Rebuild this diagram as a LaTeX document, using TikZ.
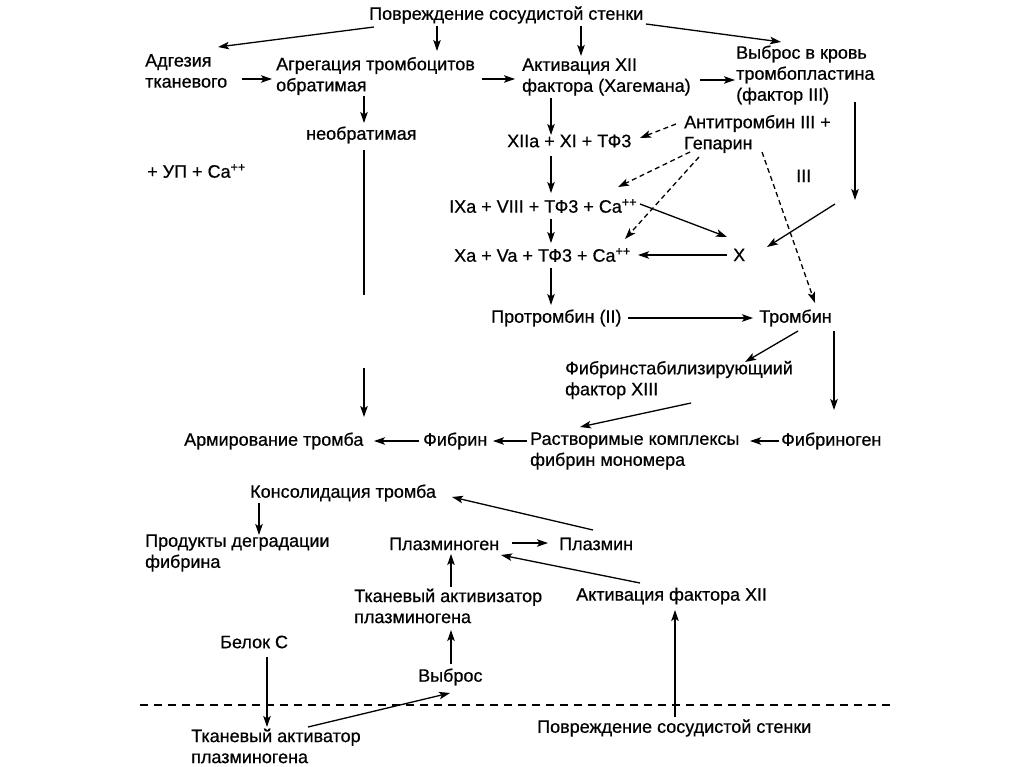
\documentclass[tikz,border=0pt]{standalone}
\usepackage{fontspec}
\setmainfont{Liberation Sans}[FakeBold=0.6]
\usetikzlibrary{arrows.meta}
\tikzset{
  lbl/.style={anchor=west, inner sep=0pt, align=left, font=\fontsize{18}{21}\selectfont},
  arr/.style={-{Stealth[length=11pt,width=7.5pt,inset=2.5pt]}, line width=1.3pt},
  plain/.style={line width=1.3pt},
  dsh/.style={arr, dash pattern=on 5pt off 3.5pt},
}
\begin{document}
\begin{tikzpicture}[x=1pt,y=-1pt]
\fill[white] (0,0) rectangle (1024,767);
\useasboundingbox (0,0) rectangle (1024,767);
% nodes
\node[lbl] (top) at (369,15) {Повреждение сосудистой стенки};
\node[lbl] (adg) at (145,71) {Адгезия\\тканевого};
\node[lbl] (agr) at (276,76) {Агрегация тромбоцитов\\обратимая};
\node[lbl] (akt) at (522,77) {Активация XII\\фактора (Хагемана)};
\node[lbl] (vyb) at (736,75) {Выброс в кровь\\тромбопластина\\(фактор III)};
\node[lbl] (neobr) at (306,135) {необратимая};
\node[lbl] (up) at (147,171) {+ УП + Ca\textsuperscript{++}};
\node[lbl] (xii) at (507,141) {XIIa + XI + ТФ3};
\node[lbl] (anti) at (684,134) {Антитромбин III +\\Гепарин};
\node[lbl] (iii) at (796,176) {III};
\node[lbl] (ix) at (449,206) {IXa + VIII + ТФ3 + Ca\textsuperscript{++}};
\node[lbl] (xa) at (454,255) {Xa + Va + ТФ3 + Ca\textsuperscript{++}};
\node[lbl] (X) at (733,255) {X};
\node[lbl] (protr) at (491,318) {Протромбин (II)};
\node[lbl] (tromb) at (759,318) {Тромбин};
\node[lbl] (fsf) at (565,380) {Фибринстабилизирующиий\\фактор XIII};
\node[lbl] (arm) at (184,441) {Армирование тромба};
\node[lbl] (fib) at (423,441) {Фибрин};
\node[lbl] (rast) at (530,451) {Растворимые комплексы\\фибрин мономера};
\node[lbl] (fbg) at (781,441) {Фибриноген};
\node[lbl] (kons) at (250,493) {Консолидация тромба};
\node[lbl] (prod) at (145,553) {Продукты деградации\\фибрина};
\node[lbl] (plg) at (389,544) {Плазминоген};
\node[lbl] (plm) at (559,544) {Плазмин};
\node[lbl] (tap) at (354,606) {Тканевый активизатор\\плазминогена};
\node[lbl] (aktf) at (576,596) {Активация фактора XII};
\node[lbl] (belok) at (220,642) {Белок С};
\node[lbl] (vybr) at (418,677) {Выброс};
\node[lbl] (povr2) at (537,728) {Повреждение сосудистой стенки};
\node[lbl] (tav) at (191,746) {Тканевый активатор\\плазминогена};
% free points
\coordinate (c1) at (855,200);
\coordinate (c2) at (835,204);
\coordinate (n1) at (364,295);
\coordinate (n2) at (364,368);
\coordinate (s1) at (140,705);
\coordinate (s2) at (890,705);
% arrows
\draw[arr] ([shift={(5,12)}]top.west) -- ([shift={(73,-24)}]adg.west);
\draw[arr] ([shift={(68,11)}]top.west) -- ([shift={(161,-25)}]agr.west);
\draw[arr] ([shift={(212,11)}]top.west) -- ([shift={(59,-21)}]akt.west);
\draw[arr] ([shift={(277,9)}]top.west) -- ([shift={(45,-33)}]vyb.west);
\draw[arr] ([shift={(97,8)}]adg.west) -- ([shift={(-4,3)}]agr.west);
\draw[arr] ([shift={(206,3)}]agr.west) -- ([shift={(-7,2)}]akt.west);
\draw[arr] ([shift={(178,3)}]akt.west) -- ([shift={(-1,5)}]vyb.west);
\draw[arr] ([shift={(88,20)}]agr.west) -- ([shift={(58,-12)}]neobr.west);
\draw[arr] ([shift={(29,21)}]akt.west) -- ([shift={(44,-6)}]xii.west);
\draw[arr] ([shift={(119,27)}]vyb.west) -- (c1);
\draw[arr] (c2) -- ([shift={(34,-8)}]X.west);
\draw[plain] ([shift={(58,15)}]neobr.west) -- (n1);
\draw[arr] (n2) -- ([shift={(180,-24)}]arm.west);
\draw[arr] ([shift={(44,15)}]xii.west) -- ([shift={(102,-13)}]ix.west);
\draw[arr] ([shift={(102,13)}]ix.west) -- ([shift={(97,-12)}]xa.west);
\draw[arr] ([shift={(97,13)}]xa.west) -- ([shift={(60,-13)}]protr.west);
\draw[dsh] ([shift={(-8,-10)}]anti.west) -- ([shift={(133,-3)}]xii.west);
\draw[dsh] ([shift={(6,18)}]anti.west) -- ([shift={(169,-19)}]ix.west);
\draw[dsh] ([shift={(15,23)}]anti.west) -- ([shift={(171,-16)}]xa.west);
\draw[dsh] ([shift={(78,18)}]anti.west) -- ([shift={(56,-15)}]tromb.west);
\draw[arr] ([shift={(191,-2)}]ix.west) -- ([shift={(-6,-18)}]X.west);
\draw[arr] ([shift={(-6,0)}]X.west) -- ([shift={(184,0)}]xa.west);
\draw[arr] ([shift={(137,0)}]protr.west) -- ([shift={(-6,0)}]tromb.west);
\draw[arr] ([shift={(39,13)}]tromb.west) -- ([shift={(180,-18)}]fsf.west);
\draw[arr] ([shift={(75,13)}]tromb.west) -- ([shift={(53,-31)}]fbg.west);
\draw[arr] ([shift={(126,23)}]fsf.west) -- ([shift={(50,-24)}]rast.west);
\draw[arr] ([shift={(-2,0)}]fbg.west) -- ([shift={(220,-10)}]rast.west);
\draw[arr] ([shift={(-3,-10)}]rast.west) -- ([shift={(70,0)}]fib.west);
\draw[arr] ([shift={(-4,0)}]fib.west) -- ([shift={(190,0)}]arm.west);
\draw[arr] ([shift={(34,-14)}]plm.west) -- ([shift={(202,4)}]kons.west);
\draw[arr] ([shift={(9,10)}]kons.west) -- ([shift={(114,-18)}]prod.west);
\draw[arr] ([shift={(123,-1)}]plg.west) -- ([shift={(-11,-1)}]plm.west);
\draw[arr] ([shift={(97,-19)}]tap.west) -- ([shift={(62,10)}]plg.west);
\draw[arr] ([shift={(64,-13)}]aktf.west) -- ([shift={(112,11)}]plg.west);
\draw[arr] ([shift={(33,-13)}]vybr.west) -- ([shift={(97,24)}]tap.west);
\draw[arr] ([shift={(47,15)}]belok.west) -- ([shift={(76,-19)}]tav.west);
\draw[arr] ([shift={(117,-19)}]tav.west) -- ([shift={(32,16)}]vybr.west);
\draw[arr] ([shift={(138,-11)}]povr2.west) -- ([shift={(99,14)}]aktf.west);
\draw[line width=1.5pt, dash pattern=on 8pt off 6pt] (s1) -- (s2);
\end{tikzpicture}
\end{document}
